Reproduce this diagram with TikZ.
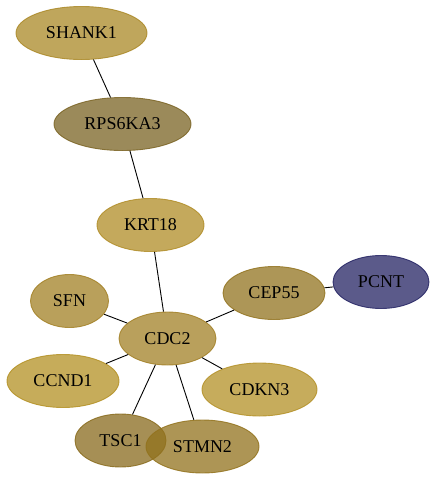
\documentclass[tikz,border=0pt]{standalone}
\usepackage{fontspec}
\setmainfont{Liberation Serif}
\usetikzlibrary{shapes.geometric}
\definecolor{cSHANK}{RGB}{170,136,38}
\definecolor{cRPS}{RGB}{122,99,35}
\definecolor{cKRT}{RGB}{176,140,38}
\definecolor{cSFN}{RGB}{162,128,36}
\definecolor{cCDC}{RGB}{162,128,38}
\definecolor{cCEP}{RGB}{146,115,31}
\definecolor{cPCNT}{RGB}{36,35,99}
\definecolor{cCCND}{RGB}{179,144,35}
\definecolor{cCDKN}{RGB}{179,144,38}
\definecolor{cTSC}{RGB}{136,106,28}
\definecolor{cSTMN}{RGB}{146,114,28}
\tikzset{
  gene/.style={ellipse, inner sep=0pt, minimum height=53pt, line width=0.9pt,
    fill opacity=0.75, draw opacity=0.85, text opacity=1, font=\fontsize{18}{20}\selectfont},
  edge/.style={draw=black, line width=0.9pt}
}
\begin{document}
\begin{tikzpicture}[x=1pt,y=-1pt]
\useasboundingbox (0,0) rectangle (436,480);
\node[gene, fill=cSHANK, draw=cSHANK, minimum width=131pt] (SHANK1) at (81.5,33) {SHANK1};
\node[gene, fill=cRPS, draw=cRPS, minimum width=137pt] (RPS6KA3) at (122.5,124) {RPS6KA3};
\node[gene, fill=cKRT, draw=cKRT, minimum width=107pt] (KRT18) at (150.5,225) {KRT18};
\node[gene, fill=cSFN, draw=cSFN, minimum width=78pt] (SFN) at (69.5,301) {SFN};
\node[gene, fill=cCEP, draw=cCEP, minimum width=102pt] (CEP55) at (274,293) {CEP55};
\node[gene, fill=cPCNT, draw=cPCNT, minimum width=96pt] (PCNT) at (381,282) {PCNT};
\node[gene, fill=cCDC, draw=cCDC, minimum width=97pt] (CDC2) at (167.5,338.5) {CDC2};
\node[gene, fill=cCCND, draw=cCCND, minimum width=112pt] (CCND1) at (63,381) {CCND1};
\node[gene, fill=cCDKN, draw=cCDKN, minimum width=115pt] (CDKN3) at (259.5,389.5) {CDKN3};
\node[gene, fill=cTSC, draw=cTSC, minimum width=91pt] (TSC1) at (120.5,440.5) {TSC1};
\node[gene, fill=cSTMN, draw=cSTMN, minimum width=113pt] (STMN2) at (202.5,446.5) {STMN2};
\draw[edge] (SHANK1) -- (RPS6KA3);
\draw[edge] (RPS6KA3) -- (KRT18);
\draw[edge] (KRT18) -- (CDC2);
\draw[edge] (SFN) -- (CDC2);
\draw[edge] (CEP55) -- (CDC2);
\draw[edge] (CEP55) -- (PCNT);
\draw[edge] (CCND1) -- (CDC2);
\draw[edge] (CDKN3) -- (CDC2);
\draw[edge] (TSC1) -- (CDC2);
\draw[edge] (STMN2) -- (CDC2);
\end{tikzpicture}
\end{document}
